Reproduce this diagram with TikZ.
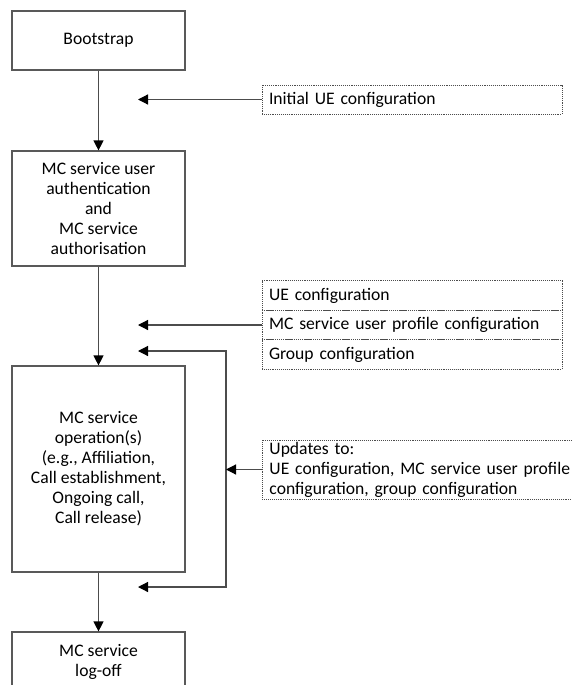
\documentclass[tikz,border=0pt]{standalone}
\usepackage{fontspec}
\setmainfont{Carlito}
\usetikzlibrary{arrows.meta}

\tikzset{
  stepbox/.style={draw=black!65, line width=1.2pt, fill=white, align=center,
    minimum width=173pt, inner sep=2pt},
  infobox/.style={draw=black!70, densely dotted, line width=0.9pt, align=left,
    minimum width=300pt, text width=286pt, inner xsep=7pt, inner ysep=0pt},
  conn/.style={draw=black!70, line width=1.2pt,
    -{Triangle[length=10pt,width=10pt,fill=black,color=black]}},
  loopconn/.style={draw=black!70, line width=1.2pt,
    {Triangle[length=10pt,width=10pt,fill=black,color=black]}-{Triangle[length=10pt,width=10pt,fill=black,color=black]}},
  txt/.style={font=\fontsize{17.6}{20}\selectfont}
}

\begin{document}
\begin{tikzpicture}[x=1pt, y=-1pt]
  \useasboundingbox (0,0) rectangle (572,685);
  \fill[white] (0,0) rectangle (572,685);
  \clip (0,0) rectangle (572,685);

  % main flow
  \node[stepbox, txt, minimum height=59pt] (boot) at (98.5,40.5) {Bootstrap};
  \node[stepbox, txt, minimum height=115pt] (auth) at (98.5,208.5)
    {MC service user\\authentication\\and\\MC service\\authorisation};
  \node[stepbox, txt, minimum height=206pt] (oper) at (98.5,469)
    {MC service\\operation(s)\\(e.g., Affiliation,\\Call establishment,\\Ongoing call,\\Call release)};
  \node[stepbox, txt, minimum height=60pt] (logoff) at (98.5,662)
    {MC service\\log-off};

  % configuration inputs
  \node[infobox, txt, minimum height=29pt] (init) at (412,99.5) {Initial UE configuration};
  \node[infobox, txt, minimum height=29.5pt] (row1) at (412,295.5) {UE configuration};
  \node[infobox, txt, minimum height=29.5pt] (row2) at (412,325) {MC service user profile configuration};
  \node[infobox, txt, minimum height=29.5pt] (row3) at (412,354.5) {Group configuration};
  \node[infobox, txt, minimum width=340pt, text width=326pt, minimum height=59pt,
        anchor=west] (upd) at (262,469.5)
    {Updates to:\\UE configuration, MC service user profile\\configuration, group configuration};

  % arrow end points
  \coordinate (initTip) at (138,99.5);
  \coordinate (cfgTip) at (138,325);
  \coordinate (loopTop) at (138,351);
  \coordinate (loopBot) at (138,587);
  \coordinate (rail) at (226,351);

  % connectors
  \draw[conn] (boot.south) -- (auth.north);
  \draw[conn] (auth.south) -- (oper.north);
  \draw[conn] (oper.south) -- (logoff.north);
  \draw[conn] (init.west) -- (initTip);
  \draw[conn] (row2.west) -- (cfgTip);
  \draw[loopconn] (loopTop) -- (rail) |- (loopBot);
  \draw[conn] (upd.west) -- (upd.west -| rail);
\end{tikzpicture}
\end{document}
